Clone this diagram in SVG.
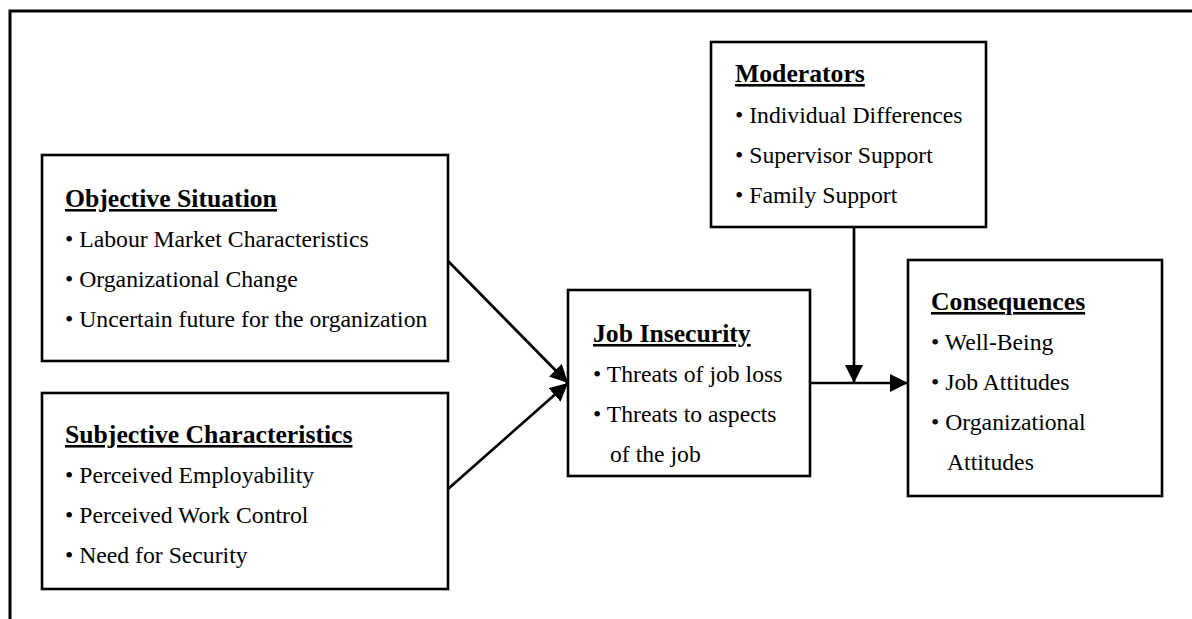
<svg xmlns="http://www.w3.org/2000/svg" width="1192" height="619" viewBox="0 0 1192 619">
  <defs>
    <style>
      .frame { fill: none; stroke: #000; stroke-width: 3; }
      .box { fill: #fff; stroke: #000; stroke-width: 2.6; }
      .title { font-family: "Liberation Serif", "Times New Roman", serif; font-size: 25.7px; font-weight: bold; fill: #000; text-decoration: underline; text-decoration-thickness: 2.5px; text-underline-offset: 3px; }
      .item { font-family: "Liberation Serif", "Times New Roman", serif; font-size: 23.7px; fill: #000; }
      .link { fill: none; stroke: #000; stroke-width: 2.7; }
    </style>
    <marker id="arrow" markerUnits="userSpaceOnUse" markerWidth="18" markerHeight="18" viewBox="0 0 16 16" refX="16" refY="8" orient="auto">
      <path d="M0,0 L16,8 L0,16 Z" fill="#000"/>
    </marker>
  </defs>

  <rect width="1192" height="619" fill="#fff"/>

  <!-- outer frame: top and left edges -->
  <path class="frame" d="M10,619 L10,11 L1192,11"/>

  <g id="objective-situation">
    <rect class="box" x="42" y="155" width="406" height="206"/>
    <text class="title" x="65" y="207">Objective Situation</text>
    <text class="item" x="65" y="247">• Labour Market Characteristics</text>
    <text class="item" x="65" y="287">• Organizational Change</text>
    <text class="item" x="65" y="327">• Uncertain future for the organization</text>
  </g>

  <g id="subjective-characteristics">
    <rect class="box" x="42" y="393" width="406" height="196"/>
    <text class="title" x="65" y="443">Subjective Characteristics</text>
    <text class="item" x="65" y="483">• Perceived Employability</text>
    <text class="item" x="65" y="523">• Perceived Work Control</text>
    <text class="item" x="65" y="563">• Need for Security</text>
  </g>

  <g id="job-insecurity">
    <rect class="box" x="568" y="290" width="242" height="186"/>
    <text class="title" x="593" y="342">Job Insecurity</text>
    <text class="item" x="593" y="382">• Threats of job loss</text>
    <text class="item" x="593" y="422">• Threats to aspects</text>
    <text class="item" x="610" y="462">of the job</text>
  </g>

  <g id="moderators">
    <rect class="box" x="711" y="42" width="275" height="185"/>
    <text class="title" x="735" y="82">Moderators</text>
    <text class="item" x="735" y="123">• Individual Differences</text>
    <text class="item" x="735" y="163">• Supervisor Support</text>
    <text class="item" x="735" y="203">• Family Support</text>
  </g>

  <g id="consequences">
    <rect class="box" x="908" y="260" width="254" height="236"/>
    <text class="title" x="931" y="310">Consequences</text>
    <text class="item" x="931" y="350">• Well-Being</text>
    <text class="item" x="931" y="390">• Job Attitudes</text>
    <text class="item" x="931" y="430">• Organizational</text>
    <text class="item" x="947" y="470">Attitudes</text>
  </g>

  <g id="connectors">
    <line class="link" x1="448" y1="261" x2="568" y2="383" marker-end="url(#arrow)"/>
    <line class="link" x1="448" y1="489" x2="568" y2="383" marker-end="url(#arrow)"/>
    <line class="link" x1="810" y1="383" x2="908" y2="383" marker-end="url(#arrow)"/>
    <line class="link" x1="854" y1="227" x2="854" y2="383" marker-end="url(#arrow)"/>
  </g>
</svg>
